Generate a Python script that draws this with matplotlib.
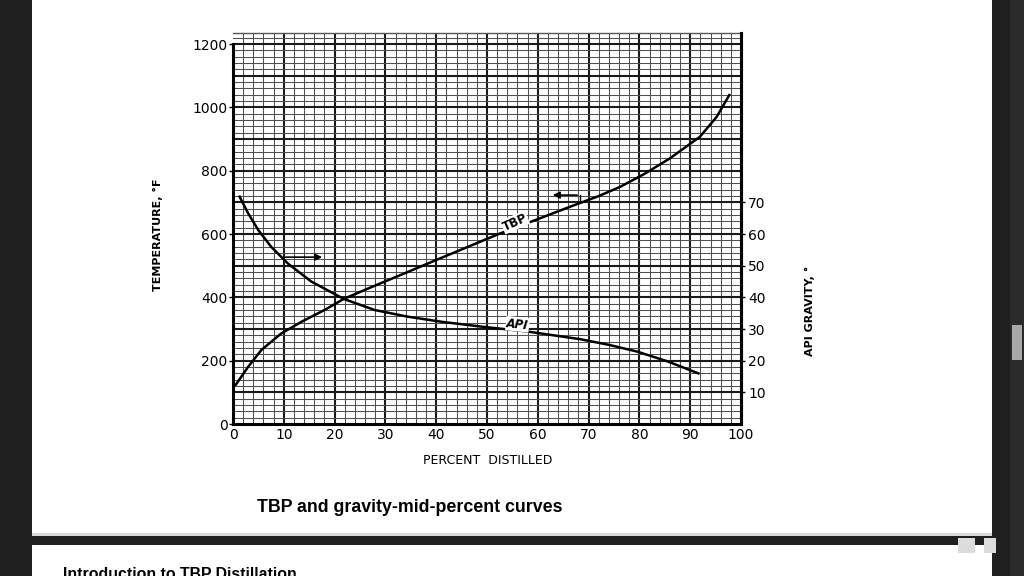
import matplotlib.pyplot as plt
from matplotlib.patches import Rectangle

# values
pct_tbp = [0.5, 3, 5.6, 9.5, 13.5, 18, 21.8, 26.6, 32.9, 40, 46, 52.6, 59.5,
           66.3, 72, 76.2, 81, 86, 91.9, 95.2, 97.7]
tbp_temp = [123, 181, 234, 286, 323, 360, 395, 428, 470, 518, 558, 602, 644,
            686, 720, 749, 790, 839, 907, 970, 1039]

pct_api = [1.3, 3, 5, 7.5, 10.8, 15.4, 21.8, 27.9, 34.4, 41, 49.2, 58,
           68.3, 74, 79.5, 85.5, 91.6]
api_grav = [71.8, 66.5, 61.2, 56, 50.7, 45, 39.5, 36, 33.9, 32.3, 30.7, 29.2,
            26.8, 25.0, 22.9, 19.8, 16.0]

pct_ticks = list(range(0, 101, 10))
temp_ticks = list(range(0, 1201, 200))
api_ticks = list(range(10, 71, 10))

W, H = 1024, 576
fig = plt.figure(figsize=(10.24, 5.76), dpi=100, facecolor='#1f1f1f')


def px_rect(x0, y0, x1, y1, color):
    # rectangle given in screen pixels (origin top-left)
    fig.add_artist(Rectangle((x0 / W, 1 - y1 / H), (x1 - x0) / W, (y1 - y0) / H,
                             transform=fig.transFigure, facecolor=color,
                             edgecolor='none', zorder=-5))


# page background pieces of the screenshot
px_rect(32, 0, 992, 535, 'white')
px_rect(32, 533, 992, 536, '#d8d8d8')
px_rect(32, 545, 992, 576, 'white')
px_rect(1010, 0, 1024, 576, '#2a2a2a')
px_rect(1012, 325, 1022, 360, '#a8a8a8')
px_rect(958, 538, 975, 553, '#dcdcdc')
px_rect(984, 538, 996, 553, '#dcdcdc')

ax = fig.add_axes([233 / W, 152 / H, 508 / W, 391 / H])
ax.set_xlim(0, 100)
ax.set_ylim(0, 1235)

# graph-paper grid
for x in range(2, 100, 2):
    heavy = x % 10 == 0
    ax.axvline(x, color='#1a1a1a' if heavy else '#505050',
               lw=1.5 if heavy else 0.75, zorder=1)
for y in range(20, 1235, 20):
    heavy = y % 100 == 0
    ax.axhline(y, color='#1a1a1a' if heavy else '#505050',
               lw=1.5 if heavy else 0.75, zorder=1)

ax.plot(pct_tbp, tbp_temp, color='black', lw=1.8, zorder=3)

ax.set_xticks(pct_ticks)
ax.set_yticks(temp_ticks)
ax.tick_params(axis='x', length=0, pad=3, labelsize=10)
ax.tick_params(axis='y', length=3, width=1, pad=1, labelsize=10)
for sp in ['left', 'bottom', 'right']:
    ax.spines[sp].set_linewidth(2.2)
ax.spines['left'].set_bounds(0, 1200)
ax.spines['top'].set_linewidth(1)
ax.spines['top'].set_color('#555555')

# API gravity on the right, 10 deg API = 100 F
ax2 = ax.twinx()
ax2.set_ylim(0, 123.5)
ax2.plot(pct_api, api_grav, color='black', lw=1.8, zorder=3)
ax2.set_yticks(api_ticks)
ax2.tick_params(axis='y', length=3, width=1, pad=2, labelsize=10)
for sp in ['left', 'bottom', 'top']:
    ax2.spines[sp].set_visible(False)
ax2.spines['right'].set_linewidth(2.2)

# curve labels
ax.text(55.5, 637, 'TBP', rotation=24, ha='center', va='center', fontsize=8.5,
        fontweight='bold',
        bbox=dict(facecolor='white', edgecolor='none', pad=0.5), zorder=4)
ax2.text(56, 31.5, 'API', rotation=-6, ha='center', va='center', fontsize=8.5,
         fontweight='bold', style='italic',
         bbox=dict(facecolor='white', edgecolor='none', pad=0.5), zorder=4)

# arrows pointing to the axis each curve belongs to
ax.annotate('', xy=(18.1, 527), xytext=(9.8, 527),
            arrowprops=dict(arrowstyle='-|>', color='black', lw=1.2,
                            mutation_scale=10), zorder=5)
ax.annotate('', xy=(62.4, 723), xytext=(68.3, 723),
            arrowprops=dict(arrowstyle='-|>', color='black', lw=1.2,
                            mutation_scale=10), zorder=5)
ax.plot([68.3, 68.3], [723, 706], color='black', lw=1, zorder=5)

lab_font = ['Liberation Sans Narrow', 'DejaVu Sans']
ax.text(-0.148, 0.483, 'TEMPERATURE, °F', transform=ax.transAxes, rotation=90,
        ha='center', va='center', fontsize=8, fontweight='bold', family=lab_font)
ax.text(1.136, 0.29, 'API GRAVITY, °', transform=ax.transAxes, rotation=90,
        ha='center', va='center', fontsize=8, fontweight='bold', family=lab_font)
ax.text(0.502, -0.0945, 'PERCENT  DISTILLED', transform=ax.transAxes,
        ha='center', va='center', fontsize=9)

fig.text(410 / W, 1 - 508 / H, 'TBP and gravity-mid-percent curves',
         ha='center', va='center', fontsize=12.8, fontweight='bold',
         family=['Liberation Sans', 'DejaVu Sans'])
fig.text(63 / W, 1 - 567 / H, 'Introduction to TBP Distillation',
         ha='left', va='top', fontsize=11.4, fontweight='bold',
         family=['Liberation Sans', 'DejaVu Sans'])

fig.savefig('out.png', dpi=100, facecolor=fig.get_facecolor())
